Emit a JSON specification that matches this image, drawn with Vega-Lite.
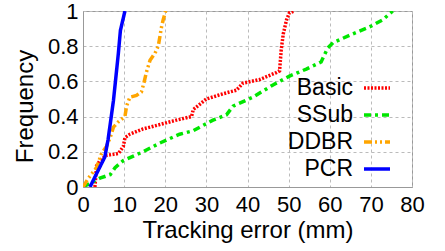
{
  "$schema": "https://vega.github.io/schema/vega-lite/v6.json",
  "autosize": {"type": "none"},
  "padding": {"left": 83, "top": 11, "right": 33, "bottom": 64},
  "width": 329,
  "height": 176,
  "background": "white",
  "config": {
    "font": "Liberation Sans",
    "view": {"stroke": "#999999", "strokeWidth": 1},
    "axis": {
      "grid": true,
      "gridColor": "#bbbbbb",
      "gridDash": [3, 3],
      "gridWidth": 1,
      "domainColor": "#999999",
      "ticks": false,
      "labelFlush": false,
      "labelOverlap": false,
      "labelFont": "Liberation Sans",
      "labelFontSize": 22,
      "labelColor": "black",
      "titleFont": "Liberation Sans",
      "titleFontSize": 24,
      "titleFontWeight": "normal",
      "titleColor": "black"
    },
    "legend": {
      "labelFont": "Liberation Sans",
      "labelFontSize": 23,
      "labelColor": "black"
    }
  },
  "data": {
    "values": [
      {"s": "Basic", "x": 2.9, "y": 0},
      {"s": "Basic", "x": 3.3, "y": 0.12},
      {"s": "Basic", "x": 4.1, "y": 0.15},
      {"s": "Basic", "x": 5.7, "y": 0.18},
      {"s": "Basic", "x": 8.6, "y": 0.19},
      {"s": "Basic", "x": 9.8, "y": 0.23},
      {"s": "Basic", "x": 10.2, "y": 0.28},
      {"s": "Basic", "x": 11.4, "y": 0.3},
      {"s": "Basic", "x": 14.6, "y": 0.33},
      {"s": "Basic", "x": 17.9, "y": 0.35},
      {"s": "Basic", "x": 22.7, "y": 0.38},
      {"s": "Basic", "x": 26.4, "y": 0.4},
      {"s": "Basic", "x": 26.8, "y": 0.44},
      {"s": "Basic", "x": 28.4, "y": 0.47},
      {"s": "Basic", "x": 30, "y": 0.5},
      {"s": "Basic", "x": 34.1, "y": 0.53},
      {"s": "Basic", "x": 37.3, "y": 0.55},
      {"s": "Basic", "x": 38.9, "y": 0.59},
      {"s": "Basic", "x": 42.9, "y": 0.61},
      {"s": "Basic", "x": 47, "y": 0.65},
      {"s": "Basic", "x": 47.8, "y": 0.66},
      {"s": "Basic", "x": 48.2, "y": 0.78},
      {"s": "Basic", "x": 48.7, "y": 0.87},
      {"s": "Basic", "x": 49.5, "y": 0.95},
      {"s": "Basic", "x": 50.2, "y": 0.99},
      {"s": "Basic", "x": 51.5, "y": 1.0},
      {"s": "SSub", "x": 0, "y": 0},
      {"s": "SSub", "x": 4.1, "y": 0.05},
      {"s": "SSub", "x": 6.6, "y": 0.07},
      {"s": "SSub", "x": 7.8, "y": 0.11},
      {"s": "SSub", "x": 9.8, "y": 0.15},
      {"s": "SSub", "x": 14.6, "y": 0.2},
      {"s": "SSub", "x": 18.7, "y": 0.25},
      {"s": "SSub", "x": 23.5, "y": 0.3},
      {"s": "SSub", "x": 26.8, "y": 0.32},
      {"s": "SSub", "x": 31.6, "y": 0.38},
      {"s": "SSub", "x": 34.9, "y": 0.41},
      {"s": "SSub", "x": 36.5, "y": 0.46},
      {"s": "SSub", "x": 41.3, "y": 0.51},
      {"s": "SSub", "x": 46.2, "y": 0.58},
      {"s": "SSub", "x": 50.2, "y": 0.63},
      {"s": "SSub", "x": 54.3, "y": 0.67},
      {"s": "SSub", "x": 57.9, "y": 0.71},
      {"s": "SSub", "x": 59.5, "y": 0.79},
      {"s": "SSub", "x": 60.8, "y": 0.82},
      {"s": "SSub", "x": 65.6, "y": 0.87},
      {"s": "SSub", "x": 69.7, "y": 0.91},
      {"s": "SSub", "x": 72.9, "y": 0.95},
      {"s": "SSub", "x": 75.3, "y": 1.0},
      {"s": "DDBR", "x": 0, "y": 0},
      {"s": "DDBR", "x": 1.3, "y": 0.05},
      {"s": "DDBR", "x": 3.3, "y": 0.11},
      {"s": "DDBR", "x": 4.5, "y": 0.19},
      {"s": "DDBR", "x": 5.7, "y": 0.23},
      {"s": "DDBR", "x": 6.6, "y": 0.28},
      {"s": "DDBR", "x": 7.4, "y": 0.34},
      {"s": "DDBR", "x": 8.6, "y": 0.37},
      {"s": "DDBR", "x": 10.2, "y": 0.4},
      {"s": "DDBR", "x": 10.6, "y": 0.46},
      {"s": "DDBR", "x": 11.4, "y": 0.51},
      {"s": "DDBR", "x": 13, "y": 0.52},
      {"s": "DDBR", "x": 14.2, "y": 0.54},
      {"s": "DDBR", "x": 14.8, "y": 0.59},
      {"s": "DDBR", "x": 15.4, "y": 0.65},
      {"s": "DDBR", "x": 16.3, "y": 0.72},
      {"s": "DDBR", "x": 17.5, "y": 0.76},
      {"s": "DDBR", "x": 18.3, "y": 0.8},
      {"s": "DDBR", "x": 19.1, "y": 0.91},
      {"s": "DDBR", "x": 19.5, "y": 0.95},
      {"s": "DDBR", "x": 20.1, "y": 1.0},
      {"s": "PCR", "x": 1.7, "y": 0},
      {"s": "PCR", "x": 3.3, "y": 0.076},
      {"s": "PCR", "x": 5.3, "y": 0.17},
      {"s": "PCR", "x": 6.1, "y": 0.27},
      {"s": "PCR", "x": 7.4, "y": 0.49},
      {"s": "PCR", "x": 8.6, "y": 0.76},
      {"s": "PCR", "x": 9.1, "y": 0.89},
      {"s": "PCR", "x": 10.2, "y": 1.0}
    ]
  },
  "mark": {"type": "line", "clip": true},
  "encoding": {
    "x": {
      "field": "x", "type": "quantitative",
      "scale": {"domain": [0, 80], "nice": false},
      "axis": {"values": [0, 10, 20, 30, 40, 50, 60, 70, 80], "title": "Tracking error (mm)", "labelPadding": 7, "titlePadding": 3}
    },
    "y": {
      "field": "y", "type": "quantitative",
      "scale": {"domain": [0, 1], "nice": false},
      "axis": {"values": [0, 0.2, 0.4, 0.6, 0.8, 1], "title": "Frequency", "labelPadding": 5, "titlePadding": 10, "titleY": 95,
        "labelExpr": "datum.value == 0 ? '0' : datum.value == 1 ? '1' : format(datum.value, '.1f')"}
    },
    "color": {
      "field": "s", "type": "nominal",
      "scale": {"domain": ["Basic", "SSub", "DDBR", "PCR"], "range": ["#ff0000", "#00e600", "#ffa500", "#0000ff"]},
      "legend": {
        "orient": "none", "legendX": 279, "legendY": 62, "title": null,
        "symbolType": "stroke", "symbolSize": 676, "symbolStrokeWidth": 4,
        "labelAlign": "right", "labelOffset": -39, "rowPadding": -3, "padding": 0
      }
    },
    "strokeDash": {
      "field": "s", "type": "nominal",
      "scale": {"domain": ["Basic", "SSub", "DDBR", "PCR"], "range": [[2, 1.5], [7, 4, 3, 4], [8, 3, 2, 3, 2, 3], [1, 0]]},
      "legend": null
    },
    "strokeWidth": {
      "field": "s", "type": "nominal",
      "scale": {"domain": ["Basic", "SSub", "DDBR", "PCR"], "range": [3.5, 3.5, 3.5, 4.5]},
      "legend": null
    }
  }
}
